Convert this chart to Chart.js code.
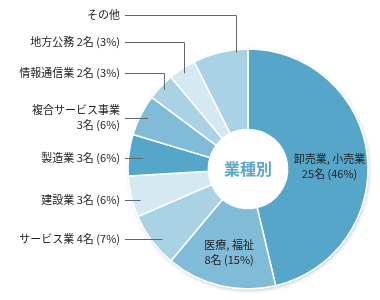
<!DOCTYPE html>
<html lang="ja">
<head>
<meta charset="utf-8">
<script src="https://cdn.jsdelivr.net/npm/chart.js@4.4.1/dist/chart.umd.min.js"></script>
<style>
    html, body { margin: 0; padding: 0; background: #fff; }
    #wrap { width: 380px; height: 300px; position: relative; }
</style>
</head>
<body>
<div id="wrap"><canvas id="industryChart"></canvas></div>
<script>
// Données du graphique (業種別)
const categories = ["卸売業, 小売業", "医療, 福祉", "サービス業", "建設業", "製造業", "複合サービス事業", "情報通信業", "地方公務", "その他"];
const counts = [25, 8, 4, 3, 3, 3, 2, 2, 4];
const percents = [46, 15, 7, 6, 6, 6, 3, 3, null];
const sliceColors = ["#56a6c9", "#80bcd7", "#a9d3e5", "#d4e9f2", "#56a6c9", "#80bcd7", "#a9d3e5", "#d4e9f2", "#a9d3e5"];
const centerTitle = "業種別";

// Placement des étiquettes (angle = fraction de la part, r = fraction du rayon)
const labelLayout = [
    { inside: true, frac: 0.53, r: 0.68 },
    { inside: true, frac: 0.49, r: 0.71 },
    { textY: 239, frac: 0.5, r: 0.89 },
    { textY: 200, frac: 0.5, r: 0.92 },
    { textY: 158, frac: 0.5, r: 0.88 },
    { textY: 110, frac: 0.5, r: 0.93, twoLines: true },
    { textY: 73, frac: 0.5, r: 0.96, elbow: true },
    { textY: 42, frac: 0.45, r: 0.96, elbow: true },
    { textY: 15, frac: 0.78, r: 0.975, elbow: true }
];

const FONT = '"Noto Sans CJK JP", "Noto Sans", sans-serif';

function labelLines(i) {
    if (percents[i] === null) return [categories[i]];
    const tail = counts[i] + "名 (" + percents[i] + "%)";
    if (labelLayout[i].inside || labelLayout[i].twoLines) return [categories[i], tail];
    return [categories[i] + " " + tail];
}

function pointOnArc(arc, frac, ratio) {
    const p = arc.getProps(["x", "y", "startAngle", "endAngle", "outerRadius"], true);
    const a = p.startAngle + (p.endAngle - p.startAngle) * frac;
    const r = p.outerRadius * ratio;
    return { x: p.x + Math.cos(a) * r, y: p.y + Math.sin(a) * r };
}

// Ombre légère sous le disque
const shadowPlugin = {
    id: "pieShadow",
    beforeDatasetsDraw(chart) {
        const arc = chart.getDatasetMeta(0).data[0];
        if (!arc) return;
        const ctx = chart.ctx;
        ctx.save();
        ctx.shadowColor = "rgba(0, 0, 0, 0.28)";
        ctx.shadowBlur = 4;
        ctx.shadowOffsetX = 1;
        ctx.shadowOffsetY = 1.5;
        ctx.fillStyle = "#fff";
        ctx.beginPath();
        ctx.arc(arc.x, arc.y, arc.outerRadius - 0.5, 0, Math.PI * 2);
        ctx.fill();
        ctx.restore();
    }
};

// Étiquettes, traits de rappel et titre central
const labelPlugin = {
    id: "pieLabels",
    afterDatasetsDraw(chart) {
        const ctx = chart.ctx;
        const meta = chart.getDatasetMeta(0);
        ctx.save();
        ctx.font = "11px " + FONT;
        ctx.fillStyle = "#222";
        ctx.textBaseline = "middle";

        meta.data.forEach((arc, i) => {
            const lay = labelLayout[i];
            const pt = pointOnArc(arc, lay.frac, lay.r);
            const lines = labelLines(i);
            if (lay.inside) {
                ctx.textAlign = "center";
                lines.forEach((t, k) => ctx.fillText(t, pt.x, pt.y + (k - (lines.length - 1) / 2) * 15));
                return;
            }
            ctx.textAlign = "right";
            lines.forEach((t, k) => ctx.fillText(t, 120, lay.textY + k * 15));

            const lineY = lay.twoLines ? lay.textY + 8 : lay.textY;
            ctx.strokeStyle = "#666";
            ctx.lineWidth = 1;
            ctx.beginPath();
            ctx.moveTo(125, Math.round(lineY) + 0.5);
            if (lay.elbow) {
                ctx.lineTo(Math.round(pt.x) + 0.5, Math.round(lineY) + 0.5);
                ctx.lineTo(Math.round(pt.x) + 0.5, pt.y);
            } else {
                ctx.lineTo(pt.x, Math.round(lineY) + 0.5);
            }
            ctx.stroke();
        });

        const first = meta.data[0];
        ctx.font = "bold 16px " + FONT;
        ctx.fillStyle = "#5aa8ca";
        ctx.textAlign = "center";
        ctx.fillText(centerTitle, first.x, first.y);
        ctx.restore();
    }
};

new Chart(document.getElementById("industryChart"), {
    type: "doughnut",
    data: {
        labels: categories,
        datasets: [{
            data: counts,
            backgroundColor: sliceColors,
            borderColor: "#fff",
            borderWidth: 1.5,
            radius: 120,
            hoverOffset: 0
        }]
    },
    options: {
        responsive: true,
        maintainAspectRatio: false,
        animation: false,
        cutout: "33%",
        layout: { padding: { left: 116, right: 0, top: 38, bottom: 0 } },
        plugins: {
            legend: { display: false },
            tooltip: { enabled: false }
        }
    },
    plugins: [shadowPlugin, labelPlugin]
});
</script>
</body>
</html>
